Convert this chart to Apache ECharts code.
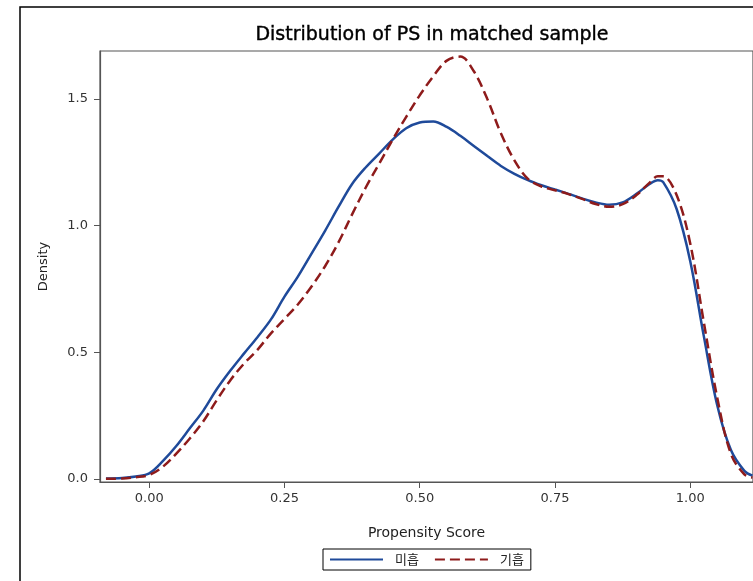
<!DOCTYPE html>
<html>
<head>
<meta charset="utf-8">
<script src="https://cdn.jsdelivr.net/npm/echarts@6/dist/echarts.min.js"></script>
<style>html,body{margin:0;padding:0;background:#fff}#c{width:753px;height:581px}</style>
</head>
<body>
<div id="c"></div>
<script>
var xs = [-0.08,-0.05,-0.025,0,0.025,0.05,0.075,0.1,0.125,0.15,0.175,0.2,0.225,0.25,0.275,0.3,0.325,0.35,0.375,0.4,0.425,0.45,0.475,0.5,0.525,0.55,0.575,0.6,0.625,0.65,0.675,0.7,0.725,0.75,0.775,0.8,0.825,0.85,0.875,0.9,0.925,0.94,0.95,0.975,1.0,1.025,1.05,1.075,1.1,1.115];
var blueDensity = [0.002,0.004,0.010,0.022,0.07,0.13,0.20,0.27,0.355,0.428,0.495,0.56,0.63,0.72,0.80,0.89,0.98,1.075,1.165,1.23,1.285,1.34,1.385,1.408,1.412,1.39,1.355,1.315,1.275,1.236,1.205,1.18,1.16,1.143,1.126,1.108,1.092,1.083,1.092,1.125,1.165,1.18,1.172,1.065,0.86,0.565,0.29,0.115,0.032,0.013];
var redDensity = [0.001,0.002,0.007,0.016,0.048,0.10,0.16,0.228,0.312,0.39,0.455,0.51,0.575,0.632,0.69,0.76,0.84,0.935,1.045,1.15,1.245,1.34,1.43,1.515,1.59,1.652,1.668,1.61,1.50,1.365,1.258,1.185,1.155,1.14,1.125,1.106,1.086,1.075,1.085,1.12,1.17,1.195,1.195,1.12,0.93,0.62,0.32,0.10,0.018,0.006];
var xTicks = [0, 0.25, 0.5, 0.75, 1.0];
var yTicks = [0, 0.5, 1.0, 1.5];
var seriesNames = ['미흡', '기흡'];

function pairs(ys){ return xs.map(function(x,i){ return [x, ys[i]]; }); }

var chart = echarts.init(document.getElementById('c'), null, {renderer:'canvas'});
var font = 'DejaVu Sans';
chart.setOption({
  animation: false,
  backgroundColor: '#fff',
  title: {
    text: 'Distribution of PS in matched sample',
    left: 427, top: 21, textAlign: 'center',
    textStyle: {fontFamily: font, fontSize: 19, fontWeight: 'normal', color: '#000',
      textBorderColor: '#000', textBorderWidth: 0.4}
  },
  graphic: [{
    type: 'rect', shape: {x: 20, y: 7, width: 800, height: 620},
    style: {fill: 'none', stroke: '#000', lineWidth: 1.5}, z: -1, silent: true
  }],
  grid: {left: 100, right: -1, top: 51, bottom: 99, show: true, borderColor: '#555', borderWidth: 1.2},
  legend: {
    left: 323, top: 549, padding: [4, 7, 4, 6],
    borderColor: '#000', borderWidth: 1, itemGap: 15,
    itemWidth: 53, itemHeight: 12,
    itemStyle: {opacity: 0},
    textStyle: {fontFamily: 'Noto Sans CJK KR', fontSize: 13, color: '#222', padding: [0, 0, 0, 7]},
    data: seriesNames
  },
  xAxis: {
    type: 'value', min: -0.091, max: 1.116,
    name: 'Propensity Score', nameLocation: 'middle', nameGap: 44,
    nameTextStyle: {fontFamily: font, fontSize: 14, color: '#222'},
    axisLine: {show: true, onZero: false, lineStyle: {color: '#555', width: 1.2}},
    axisTick: {show: true, length: 6, customValues: xTicks, lineStyle: {color: '#555'}},
    axisLabel: {customValues: xTicks, fontFamily: font, fontSize: 13, color: '#333', margin: 10,
      formatter: function(v){ return v.toFixed(2); }},
    splitLine: {show: false}
  },
  yAxis: {
    type: 'value', min: -0.012, max: 1.69,
    name: 'Density', nameLocation: 'middle', nameGap: 50, nameRotate: 90,
    nameTextStyle: {fontFamily: font, fontSize: 13, color: '#222'},
    axisLine: {show: true, onZero: false, lineStyle: {color: '#555', width: 1.2}},
    axisTick: {show: true, length: 6, customValues: yTicks, lineStyle: {color: '#555'}},
    axisLabel: {customValues: yTicks, fontFamily: font, fontSize: 13, color: '#333', margin: 12,
      formatter: function(v){ return v.toFixed(1); }},
    splitLine: {show: false}
  },
  series: [{
    name: seriesNames[0], type: 'line', data: pairs(blueDensity), smooth: 0.35,
    symbol: 'none', lineStyle: {color: '#1F4A9A', width: 2.5}, itemStyle: {color: '#1F4A9A'}, z: 2
  }, {
    name: seriesNames[1], type: 'line', data: pairs(redDensity), smooth: 0.35,
    symbol: 'none', lineStyle: {color: '#8E1B1B', width: 2.5, type: [10, 5]}, itemStyle: {color: '#8E1B1B'}, z: 3
  }]
});
</script>
</body>
</html>
